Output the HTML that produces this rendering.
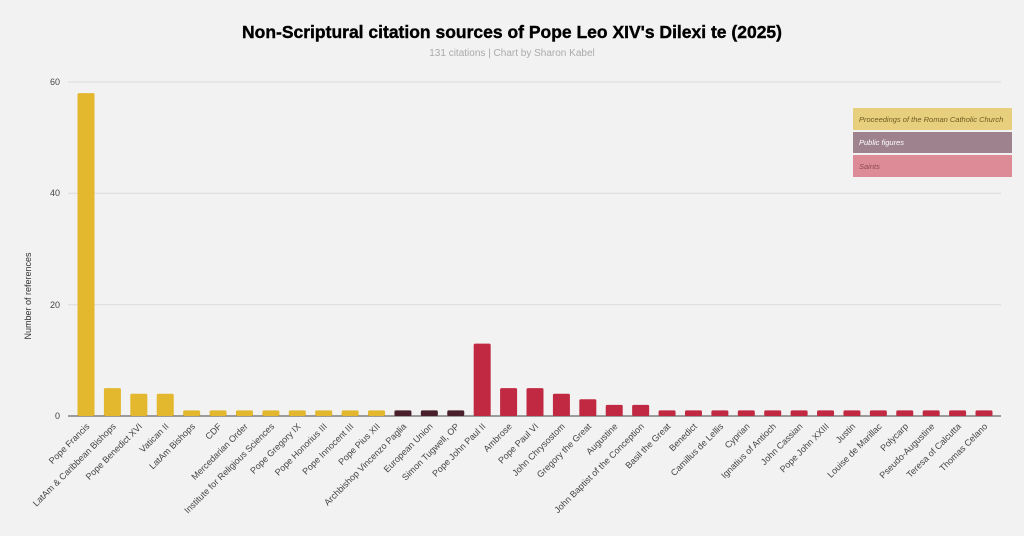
<!DOCTYPE html>
<html><head><meta charset="utf-8"><style>
body{margin:0;background:#f2f2f2;}
svg{display:block;font-family:"Liberation Sans",sans-serif;}
</style></head><body>
<svg width="1024" height="536" viewBox="0 0 1024 536">
<rect width="1024" height="536" fill="#f2f2f2"/>
<text x="512" y="38" text-anchor="middle" font-size="17.5" font-weight="bold" fill="#000" stroke="#000" stroke-width="0.4">Non-Scriptural citation sources of Pope Leo XIV's Dilexi te (2025)</text>
<text x="512" y="56" text-anchor="middle" font-size="10" fill="#aaa">131 citations | Chart by Sharon Kabel</text>
<g stroke="#d9d9d9" stroke-width="1">
<line x1="68" x2="1001" y1="82" y2="82"/><line x1="68" x2="1001" y1="193.3" y2="193.3"/><line x1="68" x2="1001" y1="304.7" y2="304.7"/>
</g>
<line x1="68" x2="1001" y1="416" y2="416" stroke="#444" stroke-width="1"/>
<g font-size="9" fill="#444" text-anchor="end">
<text x="60" y="85">60</text><text x="60" y="196">40</text><text x="60" y="308">20</text><text x="60" y="419">0</text>
</g>
<text transform="translate(31 296) rotate(-90)" font-size="9" fill="#333" text-anchor="middle">Number of references</text>
<g id="bars"></g>
<g id="labels" font-size="9" fill="#444"></g>
<rect x="853" y="108" width="159" height="22" fill="#e8cf7e"/>
<text x="859" y="122" font-size="7.5" font-style="italic" fill="#6e5a20">Proceedings of the Roman Catholic Church</text>
<rect x="853" y="132" width="159" height="21" fill="#9e838f"/>
<text x="859" y="145" font-size="7.5" font-style="italic" fill="#fff">Public figures</text>
<rect x="853" y="155" width="159" height="22" fill="#dd8b96"/>
<text x="859" y="169" font-size="7.5" font-style="italic" fill="#8a4a55">Saints</text>
</svg>
<script>
var d=[["Pope Francis",58,0],["LatAm & Caribbean Bishops",5,0],["Pope Benedict XVI",4,0],["Vatican II",4,0],["LatAm Bishops",1,0],["CDF",1,0],["Mercedarian Order",1,0],["Institute for Religious Sciences",1,0],["Pope Gregory IX",1,0],["Pope Honorius III",1,0],["Pope Innocent III",1,0],["Pope Pius XII",1,0],["Archbishop Vincenzo Paglia",1,1],["European Union",1,1],["Simon Tugwell, OP",1,1],["Pope John Paul II",13,2],["Ambrose",5,2],["Pope Paul VI",5,2],["John Chrysostom",4,2],["Gregory the Great",3,2],["Augustine",2,2],["John Baptist of the Conception",2,2],["Basil the Great",1,2],["Benedict",1,2],["Camillus de Lellis",1,2],["Cyprian",1,2],["Ignatius of Antioch",1,2],["John Cassian",1,2],["Pope John XXIII",1,2],["Justin",1,2],["Louise de Marillac",1,2],["Polycarp",1,2],["Pseudo-Augustine",1,2],["Teresa of Calcutta",1,2],["Thomas Celano",1,2]];
var cols=["#e3b82f","#4a1f2c","#c12942"],ns="http://www.w3.org/2000/svg";
var b=document.getElementById("bars"),l=document.getElementById("labels");
var step=(984-86)/(d.length-1);
d.forEach(function(e,i){var cx=86+i*step,h=e[1]*334/60;
var r=document.createElementNS(ns,"rect");r.setAttribute("x",cx-8.5);r.setAttribute("y",416-h);r.setAttribute("width",17);r.setAttribute("height",h);r.setAttribute("rx",1.5);r.setAttribute("fill",cols[e[2]]);b.appendChild(r);
var t=document.createElementNS(ns,"text");t.setAttribute("text-anchor","end");t.setAttribute("transform","translate("+(cx+4)+" 427) rotate(-45)");t.textContent=e[0];l.appendChild(t);});
</script>
</body></html>
